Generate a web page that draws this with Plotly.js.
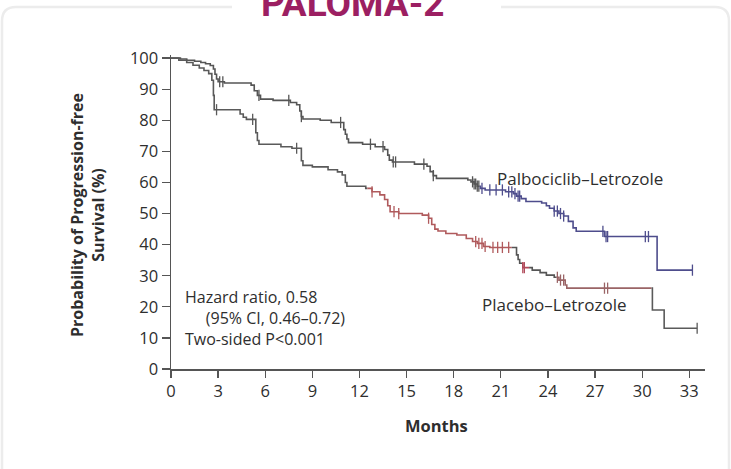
<!DOCTYPE html>
<html>
<head>
<meta charset="utf-8">
<script src="https://cdn.plot.ly/plotly-3.0.1.min.js"></script>
<style>
  html, body { margin: 0; padding: 0; background: #ffffff; }
  #chart { width: 731px; height: 469px; }
</style>
</head>
<body>
<div id="chart"></div>
<script>
// Kaplan–Meier estimates: time of each step (months) and survival (%) after it
const palboTimes = [0, 0.6, 1.0, 1.5, 1.9, 2.2, 2.5, 2.7, 2.8, 2.9, 3.0, 3.4,
  5.1, 5.3, 5.5, 5.7, 6.5, 7.6, 8.0, 8.2, 8.3, 8.4, 9.5, 10.2, 11.0, 11.1, 11.2, 11.3,
  12.2, 13.0, 13.6, 13.8, 13.9, 14.1, 15.5, 16.3, 16.5, 16.7, 16.9, 18.9, 19.1, 19.3,
  19.5, 19.7, 20.0, 21.3, 21.8, 22.0, 22.3, 22.6, 23.6, 23.9, 24.1, 24.4, 24.7, 25.0,
  25.3, 25.6, 25.8, 27.6, 30.95];
const palboSurv = [100, 99.7, 99.3, 99.0, 98.6, 98.2, 97.6, 96.5, 94.8, 93.3, 92.4, 92.0,
  91.3, 89.5, 88.0, 86.8, 86.4, 85.7, 85.0, 83.0, 81.2, 80.4, 80.0, 79.3, 77.0, 75.5, 74.0, 72.8,
  72.3, 71.5, 70.6, 68.8, 67.2, 66.6, 65.9, 65.2, 63.5, 62.2, 61.3, 60.8, 60.2, 59.5,
  58.8, 58.1, 57.6, 57.0, 56.4, 55.6, 54.8, 53.9, 53.4, 52.5, 51.7, 50.8, 50.0, 49.2,
  47.5, 45.4, 44.3, 42.6, 31.8];
const palboCensor = [3.1, 3.3, 5.6, 7.5, 8.3, 10.8, 12.7, 13.5, 14.15, 14.3, 16.1, 16.7,
  19.2, 19.3, 19.4, 19.5, 19.6, 19.8, 20.3, 20.7, 21.1, 21.5, 21.7, 21.9, 22.1, 22.2,
  24.4, 24.6, 24.8, 25.0, 27.5, 27.7, 27.8, 30.2, 30.4, 33.2];
const palboEnd = 33.2;

const placeboTimes = [0, 0.5, 1.0, 1.4, 1.8, 2.1, 2.4, 2.6, 2.7, 2.75, 4.4, 4.6, 4.8,
  5.4, 5.5, 5.6, 7.0, 7.7, 8.3, 8.4, 9.0, 10.0, 10.6, 10.9, 11.1, 11.2, 12.4, 12.8, 13.3,
  13.6, 13.8, 13.95, 14.5, 16.0, 16.4, 16.6, 16.8, 17.0, 17.5, 18.2, 18.8, 19.2, 19.5,
  19.9, 20.3, 22.0, 22.1, 22.2, 22.4, 23.0, 23.5, 23.9, 24.4, 24.7, 25.1, 25.2, 30.65, 31.4];
const placeboSurv = [100, 99.3, 98.6, 97.7, 96.8, 96.0, 95.0, 92.9, 88.0, 83.4, 82.0, 81.0, 80.3,
  76.0, 73.5, 72.3, 71.5, 71.0, 67.0, 65.5, 65.0, 64.1, 63.4, 62.4, 60.0, 58.8, 58.1, 57.0, 56.0,
  54.5, 52.5, 50.6, 50.0, 49.5, 48.5, 46.5, 45.0, 44.4, 43.6, 43.1, 42.0, 41.0, 40.4,
  39.4, 39.1, 36.7, 35.2, 34.0, 32.6, 31.8, 31.0, 30.2, 29.5, 28.6, 27.0, 26.0, 19.0, 13.1];
const placeboCensor = [2.9, 5.2, 8.0, 12.8, 14.2, 14.5, 16.4, 19.4, 19.6, 19.8, 20.0,
  20.5, 20.8, 21.1, 21.5, 22.4, 22.5, 24.6, 24.8, 25.0, 27.6, 27.8, 33.5];
const placeboEnd = 33.5;

const xTicks = [0, 3, 6, 9, 12, 15, 18, 21, 24, 27, 30, 33];
const yTicks = [0, 10, 20, 30, 40, 50, 60, 70, 80, 90, 100];

// tint of each stretch of the curves
const palboTint = [[0, 19.65, '#555555'], [19.65, 33.3, '#4e4d8c']];
const placeboTint = [[0, 12.5, '#5a5a5a'], [12.5, 21.7, '#b05a5c'], [21.7, 22.35, '#555555'],
  [22.35, 22.8, '#b04a5a'], [22.8, 24.55, '#555555'], [24.55, 30.6, '#9a6466'], [30.6, 33.6, '#5a5a5a']];

function survAt(times, surv, t) {
  let v = surv[0];
  for (let i = 0; i < times.length; i++) if (times[i] <= t) v = surv[i];
  return v;
}

function stepPiece(times, surv, t0, t1) {
  const xs = [t0], ys = [survAt(times, surv, t0)];
  times.forEach((t, i) => { if (t > t0 && t < t1) { xs.push(t); ys.push(surv[i]); } });
  xs.push(t1); ys.push(survAt(times, surv, t1));
  return { xs, ys };
}

const traces = [];
function addArm(times, surv, censor, end, tint) {
  tint.forEach(([a, b, col]) => {
    const t1 = Math.min(b, end);
    if (a >= t1) return;
    const p = stepPiece(times, surv, a, t1);
    traces.push({ x: p.xs, y: p.ys, type: 'scatter', mode: 'lines',
      line: { shape: 'hv', color: col, width: 1.6 }, hoverinfo: 'skip', showlegend: false });
    const cx = censor.filter(t => t >= a && t < b);
    traces.push({ x: cx, y: cx.map(t => survAt(times, surv, t)), type: 'scatter', mode: 'markers',
      marker: { symbol: 'line-ns-open', size: 8, color: col, line: { color: col, width: 1.3 } },
      hoverinfo: 'skip', showlegend: false });
  });
}
addArm(palboTimes, palboSurv, palboCensor, palboEnd, palboTint);
addArm(placeboTimes, placeboSurv, placeboCensor, placeboEnd, placeboTint);

// plot frame geometry (pixels) used to place decorations in paper units
const L = 171, R = 705, T = 55, B = 369;
const fx = px => (px - L) / (R - L);
const fy = py => (B - py) / (B - T);

const txt = { family: 'Open Sans, sans-serif', size: 17, color: '#2e2e2e' };
const statTxt = { family: 'Open Sans, sans-serif', size: 16, color: '#2e2e2e' };
const tickTxt = { family: 'Open Sans, sans-serif', size: 16.5, color: '#2e2e2e' };
const boxPath = `M ${fx(16)},${fy(7)} L ${fx(715)},${fy(7)} Q ${fx(729)},${fy(7)} ${fx(729)},${fy(21)} ` +
  `L ${fx(729)},${fy(490)} M ${fx(2)},${fy(490)} L ${fx(2)},${fy(21)} Q ${fx(2)},${fy(7)} ${fx(16)},${fy(7)}`;

const layout = {
  width: 731, height: 469,
  margin: { l: L, r: 731 - R, t: T, b: 469 - B, pad: 0 },
  paper_bgcolor: '#ffffff', plot_bgcolor: '#ffffff',
  font: txt,
  xaxis: {
    range: [0, 34], tickvals: xTicks, ticktext: xTicks.map(String),
    showgrid: false, zeroline: false, showline: true, linecolor: '#555555', linewidth: 1.5,
    ticks: 'outside', ticklen: 7, tickwidth: 1.3, tickcolor: '#555555',
    tickfont: tickTxt, fixedrange: true
  },
  yaxis: {
    range: [0, 101], tickvals: yTicks, ticktext: yTicks.map(String),
    showgrid: false, zeroline: false, showline: true, linecolor: '#555555', linewidth: 1.5,
    ticks: 'outside', ticklen: 8, tickwidth: 1.3, tickcolor: '#555555',
    tickfont: tickTxt, fixedrange: true
  },
  shapes: [
    { type: 'path', xref: 'paper', yref: 'paper', path: boxPath,
      line: { color: '#ececec', width: 2.5 } },
    { type: 'rect', xref: 'paper', yref: 'paper', x0: fx(232), x1: fx(501), y0: fy(-10), y1: fy(16),
      fillcolor: '#ffffff', line: { width: 0 } }
  ],
  annotations: [
    { text: '<b>PALOMA-2</b>', xref: 'paper', yref: 'paper', x: fx(352), y: fy(4),
      xanchor: 'center', yanchor: 'middle', showarrow: false,
      font: { family: 'Roboto, sans-serif', size: 37, color: '#9c1f62' } },
    { text: 'Palbociclib–Letrozole', x: 20.6, y: 61.4, xanchor: 'left', yanchor: 'middle',
      showarrow: false, font: txt },
    { text: 'Placebo–Letrozole', x: 19.7, y: 20.6, xanchor: 'left', yanchor: 'middle',
      showarrow: false, font: txt },
    { text: 'Hazard ratio, 0.58<br>&nbsp;&nbsp;&nbsp;&nbsp;&nbsp;(95% CI, 0.46–0.72)<br>Two-sided P<0.001',
      x: 0.75, y: 16.4, xanchor: 'left', yanchor: 'middle', align: 'left',
      showarrow: false, font: statTxt },
    { text: '<b>Months</b>', xref: 'paper', yref: 'paper', x: fx(436), y: fy(425),
      xanchor: 'center', yanchor: 'middle', showarrow: false,
      font: { family: 'Open Sans, sans-serif', size: 16.5, color: '#2e2e2e' } },
    { text: '<b>Probability of Progression-free<br>Survival (%)</b>', xref: 'paper', yref: 'paper',
      x: fx(87), y: fy(215), xanchor: 'center', yanchor: 'middle', textangle: -90, showarrow: false,
      font: { family: 'Open Sans, sans-serif', size: 16, color: '#2e2e2e' } }
  ]
};

Plotly.newPlot('chart', traces, layout, { displayModeBar: false, staticPlot: true });
</script>
</body>
</html>
